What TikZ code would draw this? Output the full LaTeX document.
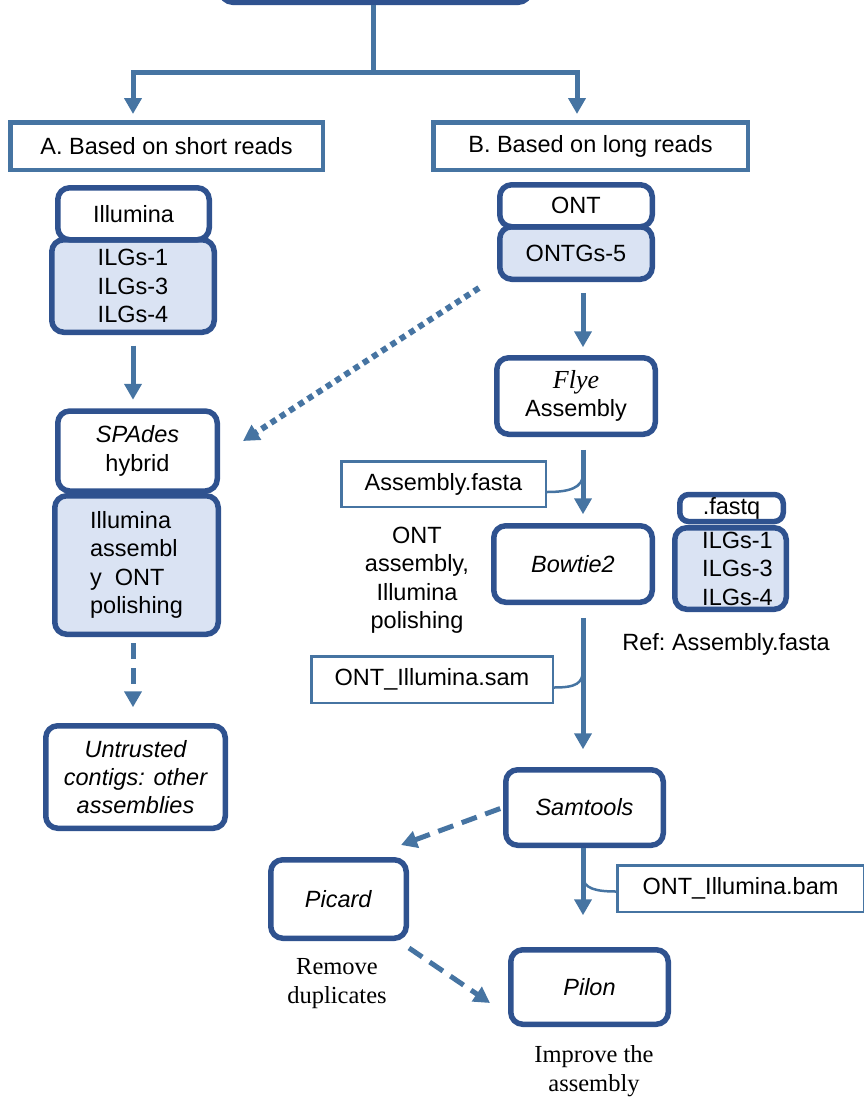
\documentclass[tikz,border=0pt]{standalone}
\usepackage{fontspec}
\setmainfont{Liberation Sans}
\newfontfamily\timesfont{Liberation Serif}
\usetikzlibrary{shapes, arrows.meta, positioning}

\definecolor{lineblue}{HTML}{4674A2}
\definecolor{boxblue}{HTML}{2F528F}
\definecolor{fillblue}{HTML}{DAE3F3}

\tikzset{
  tool/.style={draw=boxblue, line width=5.5pt, rounded corners=12pt, fill=white, align=center, inner sep=0pt},
  reads/.style={tool, fill=fillblue},
  branch/.style={draw=lineblue, line width=4.5pt, fill=white, inner sep=0pt},
  file/.style={draw=lineblue, line width=2.5pt, fill=white, inner sep=0pt},
  note/.style={align=center, inner sep=0pt},
  flow/.style={draw=lineblue, line width=5pt, -{Triangle[width=17pt,length=16pt]}},
  maybe/.style={flow, dash pattern=on 16pt off 9pt},
  hybrid/.style={flow, line width=6pt, dash pattern=on 6pt off 5pt},
  callout/.style={draw=lineblue, line width=2.5pt}
}

\begin{document}
\begin{tikzpicture}[x=1pt, y=-1pt, font=\fontsize{23.5}{28.5}\selectfont\frenchspacing]
\useasboundingbox (0,0) rectangle (863,1098);

% top of the tree
\node [tool, minimum width=309.5pt, minimum height=50pt] (Top) at (375.5,-22.75) {};
\node [branch, minimum width=312.5pt, minimum height=47.5pt] (ShortReads) at (166.5,146) {A. Based on short reads};
\node [branch, minimum width=314.5pt, minimum height=47.5pt] (LongReads) at (590.5,146) {B. Based on long reads};
\coordinate (split) at (373,72);
\draw [flow, shorten >=6pt] (Top.south -| split) -- (split) -| ([xshift=-33.5pt]ShortReads.north);
\draw [flow, shorten >=6pt] (split) -| ([xshift=-13.5pt]LongReads.north);

% short reads
\node [reads, minimum width=162.5pt, minimum height=92.5pt] (ILGsA) at (133,286) {ILGs-1\\ILGs-3\\ILGs-4};
\node [tool, minimum width=151.5pt, minimum height=52pt] (Illumina) at (133.5,213.75) {Illumina};
\node [reads, minimum width=163.5pt, minimum height=138.5pt, align=left] (IllAsm) at (136.5,565) {Illumina\\assembl\\y\ \ ONT\\polishing};
\node [tool, minimum width=159.5pt, minimum height=80pt] (SPAdes) at (137.5,451) {\textit{SPAdes}\\hybrid};
\node [tool, minimum width=179.5pt, minimum height=102.5pt, font=\fontsize{23.5}{28}\selectfont\itshape] (Untrusted) at (135.5,777) {Untrusted\\contigs: other\\assemblies};
\draw [flow, shorten <=10.5pt, shorten >=8.5pt] (ILGsA.south) -- (ILGsA.south |- SPAdes.north);
\draw [maybe, shorten <=6pt, shorten >=15.75pt] ([xshift=-3.5pt]IllAsm.south) -- ([xshift=-3.5pt]IllAsm.south |- Untrusted.north);

% long reads
\coordinate (spine) at (583,0);
\node [reads, minimum width=152.5pt, minimum height=52.5pt] (ONTGs) at (576,253) {ONTGs-5};
\node [tool, minimum width=152.5pt, minimum height=42pt] (ONT) at (576,205.75) {ONT};
\node [tool, minimum width=158.5pt, minimum height=76.5pt] (Flye) at (576,396) {{\timesfont\itshape\fontsize{26}{28.5}\selectfont Flye}\\Assembly};
\node [tool, minimum width=158.5pt, minimum height=76.5pt] (Bowtie) at (573,564) {\textit{Bowtie2}};
\node [reads, minimum width=111.5pt, minimum height=81.5pt] (ILGsB) at (730.5,568.5) {\hspace*{14pt}ILGs-1\\\hspace*{14pt}ILGs-3\\\hspace*{14pt}ILGs-4};
\node [tool, minimum width=103.5pt, minimum height=27pt, rounded corners=9pt] (Fastq) at (731.5,508) {.fastq};
\node [tool, minimum width=157.5pt, minimum height=75.5pt] (Samtools) at (584.5,807.5) {\textit{Samtools}};
\node [tool, minimum width=135.5pt, minimum height=78.5pt] (Picard) at (338.5,899) {\textit{Picard}};
\node [tool, minimum width=157.5pt, minimum height=74.5pt] (Pilon) at (589.5,987) {\textit{Pilon}};

\node [file, minimum width=204.5pt, minimum height=45.5pt] (AsmFasta) at (443.5,484) {Assembly.fasta};
\node [file, minimum width=241.5pt, minimum height=46.5pt] (SamFile) at (432,679.5) {ONT\_Illumina.sam};
\node [file, minimum width=246.5pt, minimum height=46.5pt] (BamFile) at (740.5,888.5) {ONT\_Illumina.bam};

\node [note] (HybridNote) at (417,580) {ONT\\assembly,\\Illumina\\polishing};
\node [note] (RefNote) at (726,644) {Ref: Assembly.fasta};
\node [note, font=\fontsize{24.5}{29}\selectfont\timesfont] (PicardNote) at (337,984) {Remove\\duplicates};
\node [note, font=\fontsize{24.5}{29}\selectfont\timesfont] (PilonNote) at (594,1071) {Improve the\\assembly};

\draw [flow, shorten <=10.75pt, shorten >=7.75pt] (ONTGs.south -| spine) -- (Flye.north -| spine);
\draw [flow, shorten <=12.75pt, shorten >=8.75pt] (Flye.south -| spine) -- (Bowtie.north -| spine);
\draw [flow, shorten <=12.75pt, shorten >=17.75pt] (Bowtie.south -| spine) -- (Samtools.north -| spine);
\draw [flow, shorten >=31.75pt] (Samtools.south -| spine) -- (Pilon.north -| spine);
\draw [hybrid] ([shift={(-18,6)}]ONTGs.south west) -- ([shift={(23,-10)}]SPAdes.east);
\draw [maybe, shorten <=3pt] (Samtools.west) -- ([shift={(-8,-12)}]Picard.north east);
\draw [maybe] ([shift={(0,7)}]Picard.south east) -- ([shift={(-18,16)}]Pilon.west);

% file callouts
\draw [callout] ([yshift=-8pt]AsmFasta.east) .. controls +(22,0) and +(0,14) .. ([yshift=10pt]AsmFasta.east -| spine);
\draw [callout] ([yshift=-8pt]SamFile.east) .. controls +(22,0) and +(0,14) .. ([yshift=10pt]SamFile.east -| spine);
\draw [callout] ([yshift=12pt]BamFile.west -| spine) .. controls +(0,12) and +(-20,0) .. ([yshift=-3pt]BamFile.west);
\end{tikzpicture}
\end{document}
